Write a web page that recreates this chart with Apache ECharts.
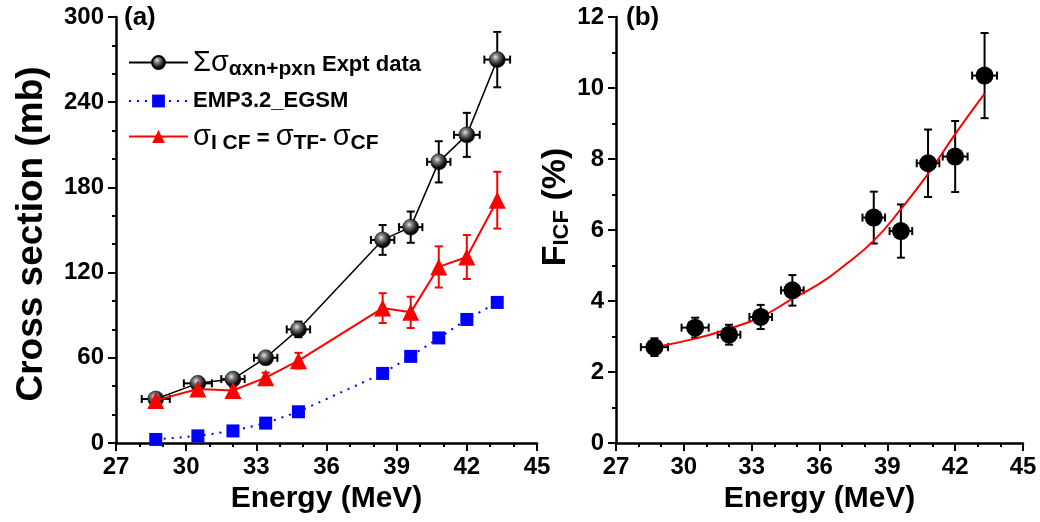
<!DOCTYPE html>
<html>
<head>
<meta charset="utf-8">
<script src="https://cdn.jsdelivr.net/npm/echarts@6/dist/echarts.min.js"></script>
<style>
  html, body { margin: 0; padding: 0; background: #fff; }
  #chart { width: 1040px; height: 522px; }
</style>
</head>
<body>
<div id="chart"></div>
<script>
// beam energies (MeV) and their spread
const energy = [28.7, 30.5, 32.0, 33.4, 34.8, 38.4, 39.6, 40.8, 42.0, 43.3];
const energyErr = [0.6, 0.6, 0.5, 0.5, 0.5, 0.5, 0.5, 0.5, 0.55, 0.55];

// panel (a): cross sections in mb
const exptSum = [31, 42, 45, 60, 80, 143, 152, 198, 217, 270];
const exptSumErr = [2.5, 2.5, 2.5, 3, 5.5, 10.5, 11, 14.5, 15.5, 19.5];
const egsm = [2.5, 5, 8.5, 14, 22, 49, 61, 74, 87, 99];
const icf = [30, 38, 37, 46, 58, 95, 92, 124, 131, 171];
const icfErr = [2.5, 2.5, 2.5, 3.5, 5.5, 10.5, 11, 14.5, 15.5, 20];

// panel (b): ICF fraction in %
const ficf = [2.7, 3.25, 3.05, 3.55, 4.3, 6.35, 5.97, 7.88, 8.07, 10.35];
const ficfErr = [0.25, 0.28, 0.28, 0.34, 0.43, 0.73, 0.75, 0.95, 1.0, 1.2];
const fitEnergy = [28.7, 30.5, 32.0, 33.4, 34.8, 36.0, 37.0, 38.4, 39.6, 40.8, 42.0, 43.3];
const fitValue = [2.7, 2.94, 3.22, 3.55, 4.06, 4.49, 4.95, 5.7, 6.59, 7.58, 8.7, 9.84];

// tick labels
const xTicks = [27, 30, 33, 36, 39, 42, 45];
const yTicksA = [0, 60, 120, 180, 240, 300];
const yTicksB = [0, 2, 4, 6, 8, 10, 12];

const FONT = "Liberation Sans";

const chart = echarts.init(document.getElementById("chart"));

function pairs(xs, ys) {
  return xs.map((x, i) => [x, ys[i]]);
}

function errData(ys, yErr, xErr) {
  return energy.map((x, i) => [x, ys[i], xErr ? xErr[i] : 0, yErr[i]]);
}

// error bars drawn through the axis scales
function errRender(color) {
  return function (params, api) {
    const x = api.value(0);
    const y = api.value(1);
    const ex = api.value(2);
    const ey = api.value(3);
    const top = api.coord([x, y + ey]);
    const bot = api.coord([x, y - ey]);
    const cap = 4;
    const style = { stroke: color, lineWidth: 2 };
    const children = [
      { type: "line", shape: { x1: top[0], y1: top[1], x2: bot[0], y2: bot[1] }, style },
      { type: "line", shape: { x1: top[0] - cap, y1: top[1], x2: top[0] + cap, y2: top[1] }, style },
      { type: "line", shape: { x1: bot[0] - cap, y1: bot[1], x2: bot[0] + cap, y2: bot[1] }, style },
    ];
    if (ex > 0) {
      const l = api.coord([x - ex, y]);
      const r = api.coord([x + ex, y]);
      children.push(
        { type: "line", shape: { x1: l[0], y1: l[1], x2: r[0], y2: r[1] }, style },
        { type: "line", shape: { x1: l[0], y1: l[1] - cap, x2: l[0], y2: l[1] + cap }, style },
        { type: "line", shape: { x1: r[0], y1: r[1] - cap, x2: r[0], y2: r[1] + cap }, style }
      );
    }
    return { type: "group", children };
  };
}

const sphere = {
  type: "radial",
  x: 0.4,
  y: 0.35,
  r: 0.65,
  colorStops: [
    { offset: 0, color: "#e6e6e6" },
    { offset: 0.3, color: "#7a7a7a" },
    { offset: 0.75, color: "#111" },
    { offset: 1, color: "#000" },
  ],
};

const axisCommon = {
  axisLine: { show: true, onZero: false, lineStyle: { color: "#000", width: 2.5 } },
  axisTick: { show: true, length: 8, lineStyle: { color: "#000", width: 2 } },
  minorTick: { show: true, length: 4, lineStyle: { color: "#000", width: 2 } },
  splitLine: { show: false },
  axisLabel: { color: "#000", fontFamily: FONT, fontWeight: "bold", fontSize: 24 },
};

function xAxis(gridIndex) {
  return Object.assign({}, axisCommon, {
    type: "value",
    gridIndex,
    min: xTicks[0],
    max: xTicks[xTicks.length - 1],
    interval: xTicks[1] - xTicks[0],
    minorTick: Object.assign({}, axisCommon.minorTick, { splitNumber: 3 }),
    axisLabel: Object.assign({}, axisCommon.axisLabel, { margin: 12 }),
    name: "Energy (MeV)",
    nameLocation: "middle",
    nameGap: 37,
    nameTextStyle: { color: "#000", fontFamily: FONT, fontWeight: "bold", fontSize: 30 },
  });
}

const legendNames = {
  "Expt data": "{g|Σσ}{sub|αxn+pxn}{b| Expt data}",
  "EMP3.2_EGSM": "{e|EMP3.2_EGSM}",
  "ICF": "{g|σ}{sub|I CF}{b| = }{g|σ}{sub|TF}{b|- }{g|σ}{sub|CF}",
};

const option = {
  animation: false,
  grid: [
    { left: 116, right: 503, top: 17, bottom: 79 },
    { left: 616, right: 17, top: 17, bottom: 79 },
  ],
  xAxis: [xAxis(0), xAxis(1)],
  yAxis: [
    Object.assign({}, axisCommon, {
      type: "value",
      gridIndex: 0,
      min: yTicksA[0],
      max: yTicksA[yTicksA.length - 1],
      interval: yTicksA[1] - yTicksA[0],
      minorTick: Object.assign({}, axisCommon.minorTick, { splitNumber: 3 }),
      axisLabel: Object.assign({}, axisCommon.axisLabel, { margin: 12 }),
      name: "Cross section (mb)",
      nameLocation: "middle",
      nameRotate: 90,
      nameGap: 66,
      nameTextStyle: { color: "#000", fontFamily: FONT, fontWeight: "bold", fontSize: 37, padding: [0, 8, 0, 0] },
    }),
    Object.assign({}, axisCommon, {
      type: "value",
      gridIndex: 1,
      min: yTicksB[0],
      max: yTicksB[yTicksB.length - 1],
      interval: yTicksB[1] - yTicksB[0],
      minorTick: Object.assign({}, axisCommon.minorTick, { splitNumber: 2 }),
      axisLabel: Object.assign({}, axisCommon.axisLabel, { margin: 12 }),
      name: "{f|F}{s|ICF}{f| (%)}",
      nameLocation: "middle",
      nameRotate: 90,
      nameGap: 36,
      nameTextStyle: {
        color: "#000",
        padding: [0, 0, 0, 46],
        rich: {
          f: { fontFamily: FONT, fontWeight: "bold", fontSize: 34, color: "#000" },
          s: { fontFamily: FONT, fontWeight: "bold", fontSize: 22, color: "#000", padding: [14, 0, 0, 0] },
        },
      },
    }),
  ],
  legend: {
    orient: "vertical",
    left: 128,
    top: 48,
    padding: 0,
    itemWidth: 59,
    itemHeight: 16,
    itemGap: 10,
    data: ["Expt data", "EMP3.2_EGSM", "ICF"],
    formatter: (name) => legendNames[name],
    textStyle: {
      color: "#000",
      rich: {
        g: { fontFamily: FONT, fontSize: 29, color: "#000" },
        sub: { fontFamily: FONT, fontWeight: "bold", fontSize: 21, color: "#000", padding: [14, 0, 0, 0] },
        b: { fontFamily: FONT, fontWeight: "bold", fontSize: 22, color: "#000", padding: [4, 0, 0, 0] },
        e: { fontFamily: FONT, fontWeight: "bold", fontSize: 22, color: "#000", padding: [4, 0, 4, 0] },
      },
    },
  },
  graphic: [
    { type: "text", left: 124, top: 5, style: { text: "(a)", fill: "#000", font: "bold 26px 'Liberation Sans'" } },
    { type: "text", left: 626, top: 5, style: { text: "(b)", fill: "#000", font: "bold 26px 'Liberation Sans'" } },
  ],
  series: [
    {
      type: "custom",
      xAxisIndex: 0,
      yAxisIndex: 0,
      renderItem: errRender("#000"),
      data: errData(exptSum, exptSumErr, energyErr),
      z: 3,
    },
    {
      type: "custom",
      xAxisIndex: 0,
      yAxisIndex: 0,
      renderItem: errRender("#ff0000"),
      data: errData(icf, icfErr, null),
      z: 3,
    },
    {
      name: "Expt data",
      type: "line",
      xAxisIndex: 0,
      yAxisIndex: 0,
      data: pairs(energy, exptSum),
      symbol: "circle",
      symbolSize: 16,
      itemStyle: { color: sphere, borderColor: "#000", borderWidth: 0.5 },
      lineStyle: { color: "#000", width: 1.5 },
      z: 5,
    },
    {
      name: "EMP3.2_EGSM",
      type: "line",
      xAxisIndex: 0,
      yAxisIndex: 0,
      data: pairs(energy, egsm),
      symbol: "rect",
      symbolSize: 13,
      itemStyle: { color: "#0000ff" },
      lineStyle: { color: "#0000ff", width: 2, type: [2, 6] },
      z: 4,
    },
    {
      name: "ICF",
      type: "line",
      xAxisIndex: 0,
      yAxisIndex: 0,
      data: pairs(energy, icf),
      symbol: "triangle",
      symbolSize: 17,
      itemStyle: { color: "#ff0000" },
      lineStyle: { color: "#ff0000", width: 2 },
      z: 6,
    },
    {
      type: "custom",
      xAxisIndex: 1,
      yAxisIndex: 1,
      renderItem: errRender("#000"),
      data: errData(ficf, ficfErr, energyErr),
      z: 3,
    },
    {
      type: "line",
      xAxisIndex: 1,
      yAxisIndex: 1,
      data: pairs(fitEnergy, fitValue),
      smooth: true,
      showSymbol: false,
      lineStyle: { color: "#ff0000", width: 2 },
      z: 4,
    },
    {
      type: "scatter",
      xAxisIndex: 1,
      yAxisIndex: 1,
      data: pairs(energy, ficf),
      symbol: "circle",
      symbolSize: 18,
      itemStyle: { color: "#000", opacity: 1 },
      z: 5,
    },
  ],
};

chart.setOption(option);
</script>
</body>
</html>
